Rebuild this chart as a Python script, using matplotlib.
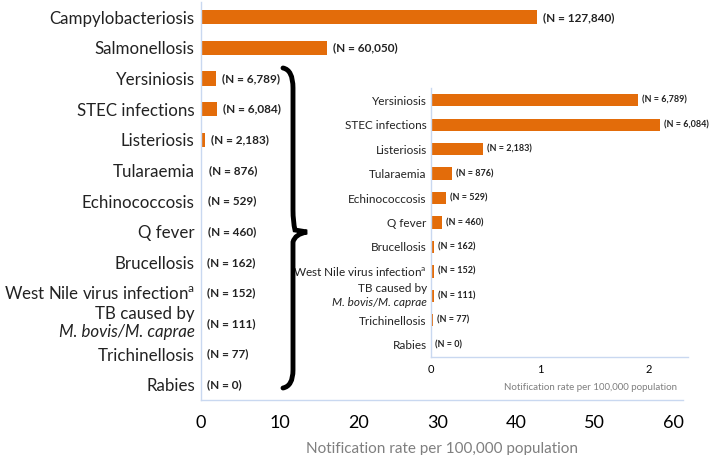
import matplotlib.pyplot as plt
from matplotlib.path import Path
from matplotlib.patches import PathPatch

plt.rcParams['font.family'] = ['Lato', 'DejaVu Sans']

# main chart data (notification rate per 100,000)
main_labels = ["Campylobacteriosis", "Salmonellosis", "Yersiniosis", "STEC infections",
               "Listeriosis", "Tularaemia", "Echinococcosis", "Q fever", "Brucellosis",
               "West Nile virus infection$^{\\mathregular{a}}$", "TB", "Trichinellosis", "Rabies"]
main_rates = [42.6, 16.0, 1.9, 2.05, 0.48, 0.19, 0.14, 0.10, 0.03, 0.03, 0.03, 0.02, 0.0]
main_counts = ["127,840", "60,050", "6,789", "6,084", "2,183", "876", "529", "460",
               "162", "152", "111", "77", "0"]

# inset data (zoom on the smaller diseases)
inset_labels = main_labels[2:]
inset_rates = [1.90, 2.10, 0.48, 0.19, 0.14, 0.10, 0.025, 0.03, 0.03, 0.02, 0.0]
inset_counts = main_counts[2:]

orange = '#e36c0a'
spine_col = '#c9d8f0'
grey = '#7f7f7f'
W, H = 709, 455

fig = plt.figure(figsize=(7.09, 4.55), dpi=100)


def style(ax):
    for s in ['top', 'right']:
        ax.spines[s].set_visible(False)
    for s in ['left', 'bottom']:
        ax.spines[s].set_color(spine_col)
        ax.spines[s].set_linewidth(1)
    ax.tick_params(length=0)


def draw(ax, labels, rates, counts, bar_h, lab_fs, n_fs, tb_dy, pad, n_off):
    y = list(range(len(labels)))
    ax.barh(y, rates, height=bar_h, color=orange)
    ax.set_ylim(len(labels) - 0.5, -0.5)
    ax.set_yticks(y)
    ax.set_yticklabels(["" if l == "TB" else l for l in labels], fontsize=lab_fs, color='#222222')
    ax.tick_params(axis='y', pad=pad)
    for i, (r, c) in enumerate(zip(rates, counts)):
        ax.annotate(f"(N = {c})", xy=(r, i), xytext=(n_off, 0), textcoords='offset points',
                    ha='left', va='center', fontsize=n_fs, fontweight='bold', color='#222222')
    i = labels.index("TB")
    ax.annotate("TB caused by", xy=(0, i), xycoords=('axes fraction', 'data'),
                xytext=(-pad, tb_dy), textcoords='offset points', ha='right', va='center',
                fontsize=lab_fs, color='#222222')
    ax.annotate("M. bovis/M. caprae", xy=(0, i), xycoords=('axes fraction', 'data'),
                xytext=(-pad, -tb_dy), textcoords='offset points', ha='right', va='center',
                fontsize=lab_fs, style='italic', color='#222222')


# main axes
ax = fig.add_axes([201 / W, 1 - 400 / H, (683 - 201) / W, 398 / H])
style(ax)
draw(ax, main_labels, main_rates, main_counts, 0.46, 12.2, 8.5, 6.5, 4.5, 4.5)
ax.set_xlim(0, 61.2)
ax.set_xticks(range(0, 61, 10))
ax.tick_params(axis='x', labelsize=13, pad=11)
ax.set_xlabel("Notification rate per 100,000 population", fontsize=11, color=grey, labelpad=8)

# inset axes
ax2 = fig.add_axes([431 / W, 1 - 357 / H, (688 - 431) / W, (357 - 88) / H])
style(ax2)
draw(ax2, inset_labels, inset_rates, inset_counts, 0.5, 8.5, 6.5, 5, 3, 3)
ax2.set_xlim(0, 2.36)
ax2.set_xticks([0, 1, 2])
ax2.tick_params(axis='x', labelsize=8, pad=5)
fig.text(590 / W, 1 - 387 / H, "Notification rate per 100,000 population",
         fontsize=7, color=grey, ha='center', va='center')

# curly brace linking the two panels (pixel coords -> figure fraction)
pts = [(283, 68), (293, 70), (293, 88), (293, 88),
       (293, 210), (293, 210), (293, 222), (295, 230), (307, 232),
       (295, 234), (293, 242), (293, 254), (293, 254),
       (293, 370), (293, 370), (293, 386), (283, 388)]
codes = [Path.MOVETO, Path.CURVE3, Path.CURVE3, Path.LINETO,
         Path.LINETO, Path.LINETO, Path.CURVE3, Path.CURVE3, Path.LINETO,
         Path.CURVE3, Path.CURVE3, Path.LINETO, Path.LINETO,
         Path.LINETO, Path.LINETO, Path.CURVE3, Path.CURVE3]
verts = [(x / W, 1 - y / H) for x, y in pts]
fig.patches.append(PathPatch(Path(verts, codes), transform=fig.transFigure,
                             fill=False, lw=3.5, color='black', capstyle='round'))

fig.savefig("out.png", dpi=100)
